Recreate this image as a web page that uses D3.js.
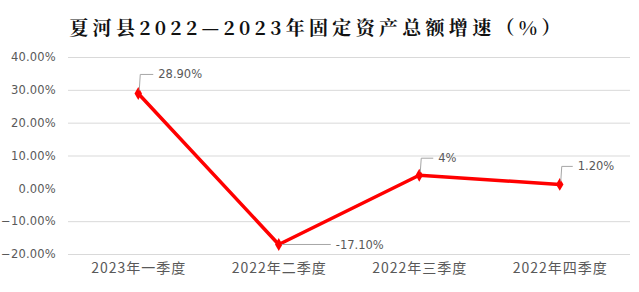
<!DOCTYPE html>
<html>
<head>
<meta charset="utf-8">
<script src="https://cdn.jsdelivr.net/npm/d3@7"></script>
<style>
  html, body { margin: 0; padding: 0; background: #fff; }
  svg { display: block; }
</style>
</head>
<body>
<svg></svg>
<script>
const quarters = ['2023年一季度', '2022年二季度', '2022年三季度', '2022年四季度'];
const growth = [28.9, -17.1, 4, 1.2];
const pointLabels = ['28.90%', '-17.10%', '4%', '1.20%'];
const yTicks = [-20, -10, 0, 10, 20, 30, 40];

const width = 639;
const height = 292;
const plotLeft = 68;
const plotRight = 630;
const plotTop = 57;
const plotBottom = 254;

// leader line shape per label: [rise above point, horizontal run]
const leaders = [[19, 13], [0, 52], [17, 12], [18, 11]];

const numFont = '"DejaVu Sans", Verdana, sans-serif';

const svg = d3.select('svg')
    .attr('width', width)
    .attr('height', height)

svg.append('text')
    .attr('x', 317)
    .attr('y', 35)
    .attr('text-anchor', 'middle')
    .style('font-family', '"Noto Serif CJK SC", "Noto Sans CJK SC", serif')
    .style('font-weight', 'bold')
    .style('font-size', '19px')
    .style('letter-spacing', '4.3px')
    .style('fill', '#111')
    .text('夏河县2022—2023年固定资产总额增速（%）')

const x = d3.scalePoint()
    .domain(quarters)
    .range([plotLeft, plotRight])
    .padding(0.5)

const y = d3.scaleLinear()
    .domain([-20, 40])
    .range([plotBottom, plotTop])

// gridlines (no line at zero in the original)
svg.append('g')
    .selectAll('line')
    .data(yTicks.filter(d => d !== 0))
    .enter()
    .append('line')
    .attr('x1', plotLeft)
    .attr('x2', plotRight)
    .attr('y1', d => y(d) + 0.5)
    .attr('y2', d => y(d) + 0.5)
    .attr('stroke', '#d9d9d9')
    .attr('stroke-width', 1)

const yAxis = d3.axisLeft(y)
    .tickValues(yTicks)
    .tickSize(0)
    .tickPadding(0)
    .tickFormat(d => d3.format('.2f')(d) + '%')

svg.append('g')
    .attr('transform', 'translate(56,0)')
    .call(yAxis)
    .call(g => g.select('.domain').remove())
    .selectAll('text')
    .style('font-family', numFont)
    .style('font-size', '11.5px')
    .style('letter-spacing', '0.2px')
    .style('fill', '#595959')

const xAxis = d3.axisBottom(x)
    .tickSize(0)
    .tickPadding(0)

svg.append('g')
    .attr('transform', 'translate(0,' + (plotBottom + 9) + ')')
    .call(xAxis)
    .call(g => g.select('.domain').remove())
    .selectAll('text')
    .style('font-family', '"Noto Sans CJK SC", sans-serif')
    .style('font-size', '14px')
    .style('letter-spacing', '1px')
    .style('fill', '#595959')

const line = d3.line()
    .x((d, i) => x(quarters[i]))
    .y(d => y(d))

svg.append('path')
    .datum(growth)
    .attr('d', line)
    .attr('fill', 'none')
    .attr('stroke', '#ff0000')
    .attr('stroke-width', 3.5)
    .attr('stroke-linejoin', 'round')

svg.selectAll('.marker')
    .data(growth)
    .enter()
    .append('path')
    .attr('class', 'marker')
    .attr('d', d3.symbol().type(d3.symbolDiamond).size(48))
    .attr('transform', (d, i) => 'translate(' + x(quarters[i]) + ',' + y(d) + ')')
    .attr('fill', '#ff0000')

// data labels with leader lines
const labels = svg.append('g')

growth.forEach((d, i) => {
    const px = x(quarters[i]);
    const py = y(d);
    const rise = leaders[i][0];
    const run = leaders[i][1];
    const pts = rise > 0
        ? [[px + 1, py - 3], [px + 2, py - rise], [px + 2 + run, py - rise]]
        : [[px + 3, py], [px + run, py]];
    labels.append('path')
        .attr('d', d3.line()(pts))
        .attr('fill', 'none')
        .attr('stroke', '#a6a6a6')
        .attr('stroke-width', 1)
    const end = pts[pts.length - 1];
    labels.append('text')
        .attr('x', end[0] + 5)
        .attr('y', end[1])
        .attr('dy', '0.35em')
        .style('font-family', numFont)
        .style('font-size', '11.5px')
        .style('fill', '#595959')
        .text(pointLabels[i])
});
</script>
</body>
</html>
